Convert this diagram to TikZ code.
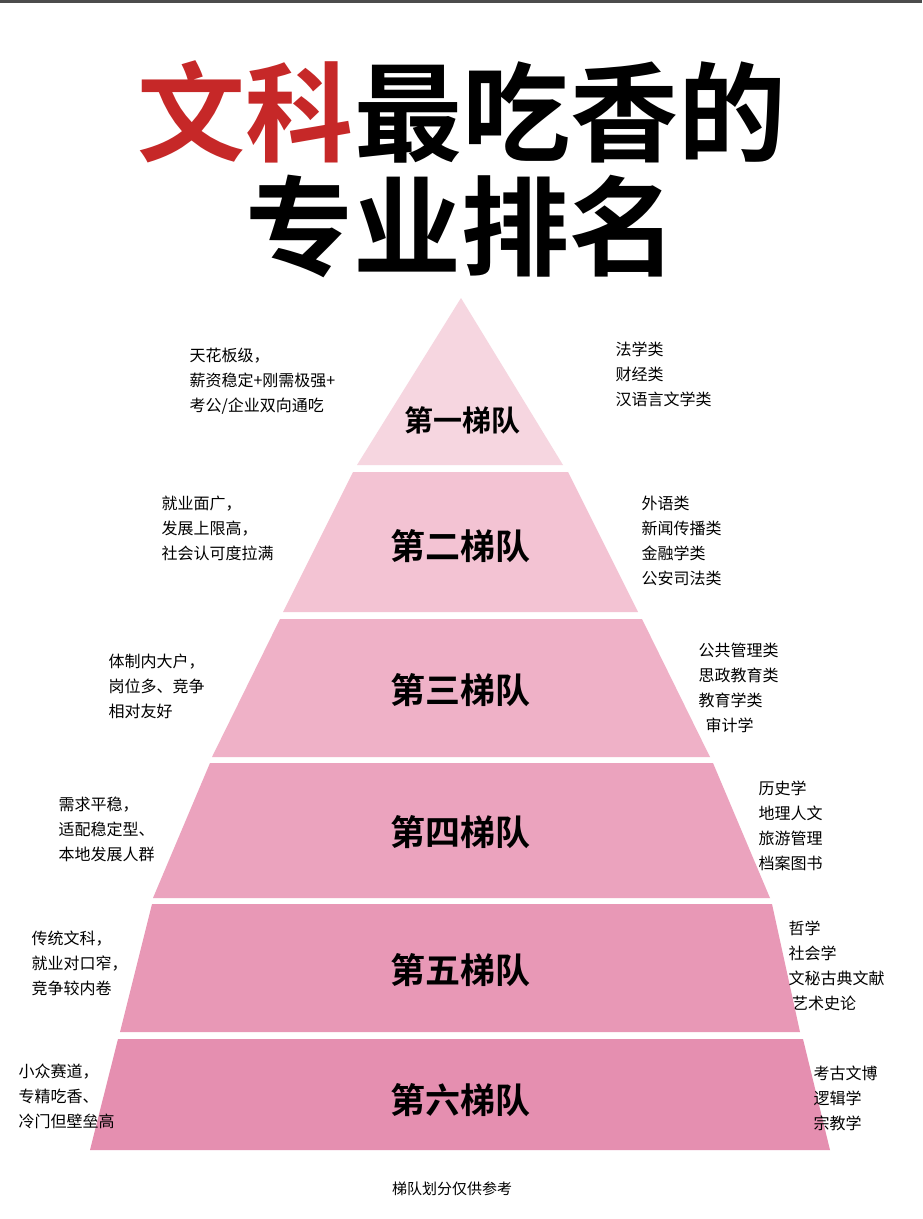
\documentclass[tikz,border=0pt]{standalone}
\usepackage{fontspec}
\setmainfont{Noto Sans CJK SC}[BoldFont={Noto Sans CJK SC Bold}]
\definecolor{tred}{HTML}{C62828}
\definecolor{b1}{HTML}{F6D6E0}
\definecolor{b2}{HTML}{F3C3D3}
\definecolor{b3}{HTML}{EFB1C7}
\definecolor{b4}{HTML}{EBA3BE}
\definecolor{b5}{HTML}{E898B6}
\definecolor{b6}{HTML}{E58FB0}
\begin{document}
\begin{tikzpicture}[x=1pt,y=-1pt,
  tier/.style={font=\bfseries\fontsize{35}{35}\selectfont},
  side/.style={font=\fontsize{16}{25}\selectfont,align=left,anchor=west},
  ttl/.style={font=\bfseries\fontsize{108}{108}\selectfont,inner sep=0pt}]
\useasboundingbox (0,0) rectangle (922,1219);
\fill[white] (0,0) rectangle (922,1219);
\fill[black!70] (0,0) rectangle (922,3);
% title
\node[ttl,anchor=east,text=tred] (t1) at (354,112) {文科};
\node[ttl,anchor=west] (t2) at (t1.east) {最吃香的};
\node[ttl] (t3) at (461,226) {专业排名};
% bands
\fill[b1] (461,298) -- (563,465) -- (357,465) -- cycle;
\fill[b2] (353,472) -- (568,472) -- (638,612) -- (283,612) -- cycle;
\fill[b3] (280,619) -- (642,619) -- (710,757) -- (212,757) -- cycle;
\fill[b4] (210,763) -- (713,763) -- (770,898) -- (153,898) -- cycle;
\fill[b5] (152,904) -- (772,904) -- (800,1032) -- (120,1032) -- cycle;
\fill[b6] (118,1039) -- (803,1039) -- (830,1150) -- (90,1150) -- cycle;
\node[tier,font=\bfseries\fontsize{29}{29}\selectfont] (l1) at (462,420) {第一梯队};
\node[tier] (l2) at (460,546) {第二梯队};
\node[tier] (l3) at (460,690) {第三梯队};
\node[tier] (l4) at (460,832) {第四梯队};
\node[tier] (l5) at (460,970) {第五梯队};
\node[tier] (l6) at (460,1100) {第六梯队};
% left texts
\node[side] (a1) at (186,381) {天花板级，\\薪资稳定+刚需极强+\\考公/企业双向通吃};
\node[side] (a2) at (158,528) {就业面广，\\发展上限高，\\社会认可度拉满};
\node[side] (a3) at (105,686) {体制内大户，\\岗位多、竞争\\相对友好};
\node[side] (a4) at (55,829) {需求平稳，\\适配稳定型、\\本地发展人群};
\node[side] (a5) at (28,963) {传统文科，\\就业对口窄，\\竞争较内卷};
\node[side] (a6) at (15,1096) {小众赛道，\\专精吃香、\\冷门但壁垒高};
% right texts
\node[side] (r1) at (612,374) {法学类\\财经类\\汉语言文学类};
\node[side] (r2) at (638,541) {外语类\\新闻传播类\\金融学类\\公安司法类};
\node[side] (r3) at (695,688) {公共管理类\\思政教育类\\教育学类\\\ \ 审计学};
\node[side] (r4) at (755,826) {历史学\\地理人文\\旅游管理\\档案图书};
\node[side] (r5) at (785,966) {哲学\\社会学\\文秘古典文献\\\ 艺术史论};
\node[side] (r6) at (810,1098) {考古文博\\逻辑学\\宗教学};
\node[font=\fontsize{15}{15}\selectfont] (ft) at (452,1189) {梯队划分仅供参考};
\end{tikzpicture}
\end{document}
